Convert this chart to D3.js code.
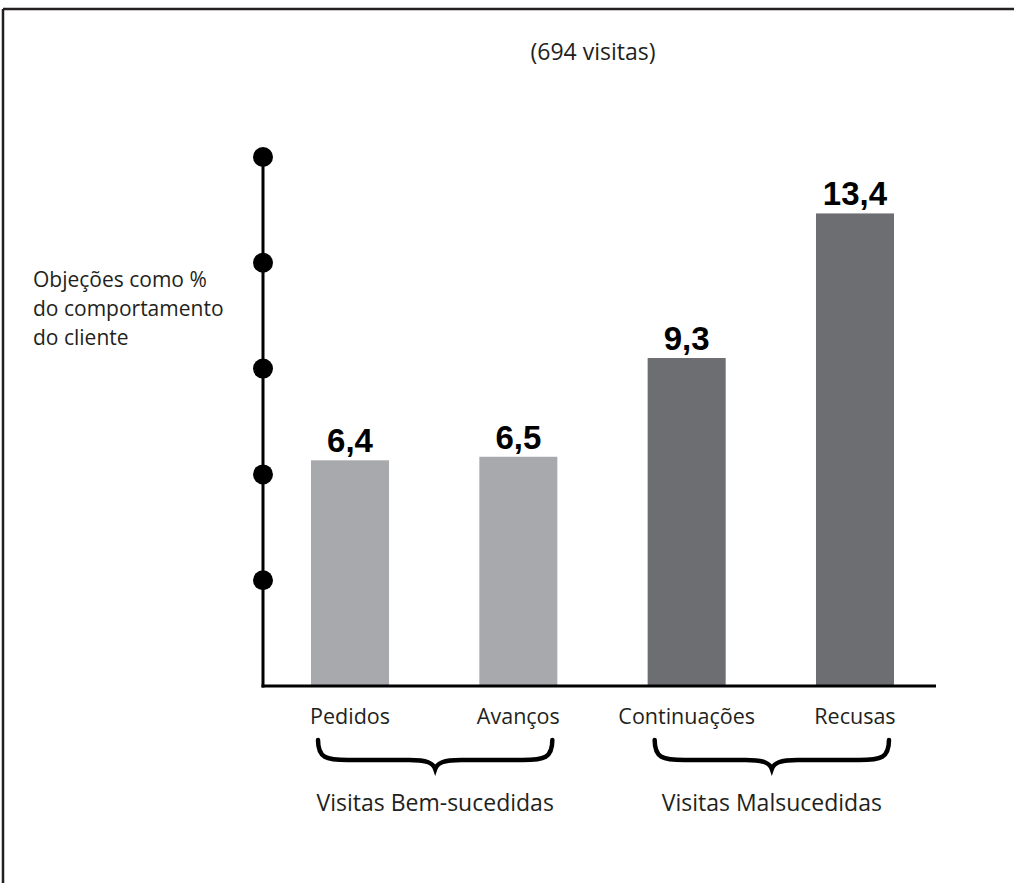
<!DOCTYPE html>
<html>
<head>
<meta charset="utf-8">
<script src="https://cdn.jsdelivr.net/npm/d3@7"></script>
<style>
  html, body { margin: 0; padding: 0; background: #fff; }
  svg { display: block; }
  .txt { font-family: "Open Sans", "Noto Sans", sans-serif; fill: #231f20; }
  .val { font-family: "Liberation Sans", Arial, sans-serif; font-weight: bold; fill: #000; }
</style>
</head>
<body>
<svg id="chart" width="1014" height="883"></svg>
<script>
// Objection share by visit outcome
const categories = ["Pedidos", "Avanços", "Continuações", "Recusas"];
const values = [6.4, 6.5, 9.3, 13.4];
const valueLabels = ["6,4", "6,5", "9,3", "13,4"];
const groupNames = ["Visitas Bem-sucedidas", "Visitas Malsucedidas"];
const groupMembers = [["Pedidos", "Avanços"], ["Continuações", "Recusas"]];
const barColors = ["#a7a9ac", "#a7a9ac", "#6d6e71", "#6d6e71"];
const tickValues = [3, 6, 9, 12, 15];
const title = "(694 visitas)";
const yLabelLines = ["Objeções como %", "do comportamento", "do cliente"];

const svg = d3.select("#chart");

// frame: top and left rules
svg.append("line").attr("x1", 3).attr("x2", 1014).attr("y1", 9).attr("y2", 9)
  .attr("stroke", "#231f20").attr("stroke-width", 2.5);
svg.append("line").attr("x1", 3).attr("x2", 3).attr("y1", 9).attr("y2", 883)
  .attr("stroke", "#231f20").attr("stroke-width", 2.5);

const axisX = 263;
const baseY = 686;

const x = d3.scaleBand()
  .domain(categories)
  .range([265.8, 939.2])
  .paddingInner(0.5365)
  .paddingOuter(0.2686);

const y = d3.scaleLinear().domain([0, 15]).range([baseY, 157]);

// title
svg.append("text").attr("class", "txt")
  .attr("x", 593).attr("y", 60)
  .attr("text-anchor", "middle")
  .attr("font-size", 23)
  .text(title);

// y-axis label
svg.append("text").attr("class", "txt")
  .attr("font-size", 21)
  .selectAll("tspan").data(yLabelLines).join("tspan")
  .attr("x", 33).attr("y", (d, i) => 287 + i * 29)
  .text(d => d);

// bars
svg.selectAll("rect.bar").data(values).join("rect")
  .attr("class", "bar")
  .attr("x", (d, i) => x(categories[i]))
  .attr("width", x.bandwidth())
  .attr("y", d => y(d))
  .attr("height", d => baseY - y(d))
  .attr("fill", (d, i) => barColors[i]);

// value labels
svg.selectAll("text.val").data(values).join("text")
  .attr("class", "val")
  .attr("x", (d, i) => x(categories[i]) + x.bandwidth() / 2)
  .attr("y", d => y(d) - 8)
  .attr("text-anchor", "middle")
  .attr("font-size", 33)
  .text((d, i) => valueLabels[i]);

// axes lines
svg.append("line").attr("x1", axisX).attr("x2", axisX)
  .attr("y1", y(15)).attr("y2", baseY + 1.5)
  .attr("stroke", "#000").attr("stroke-width", 3);
svg.append("line").attr("x1", axisX - 1.5).attr("x2", 936)
  .attr("y1", baseY).attr("y2", baseY)
  .attr("stroke", "#000").attr("stroke-width", 3);

// tick dots
svg.selectAll("circle.tick").data(tickValues).join("circle")
  .attr("class", "tick")
  .attr("cx", axisX).attr("cy", d => y(d)).attr("r", 10)
  .attr("fill", "#000");

// category labels
svg.selectAll("text.cat").data(categories).join("text")
  .attr("class", "txt cat")
  .attr("x", d => x(d) + x.bandwidth() / 2)
  .attr("y", 724)
  .attr("text-anchor", "middle")
  .attr("font-size", 21.5)
  .text(d => d);

// group braces
function bracePath(x0, x1, y0) {
  const xm = (x0 + x1) / 2, h = 20, t = 29;
  return `M${x0},${y0} C${x0},${y0 + h - 2} ${x0 + 8},${y0 + h} ${x0 + 30},${y0 + h}` +
    ` L${xm - 26},${y0 + h} C${xm - 8},${y0 + h} ${xm - 2},${y0 + h + 3} ${xm},${y0 + t}` +
    ` C${xm + 2},${y0 + h + 3} ${xm + 8},${y0 + h} ${xm + 26},${y0 + h}` +
    ` L${x1 - 30},${y0 + h} C${x1 - 8},${y0 + h} ${x1},${y0 + h - 2} ${x1},${y0}`;
}

groupMembers.forEach((members, gi) => {
  const x0 = x(members[0]) + 7;
  const x1 = x(members[members.length - 1]) + x.bandwidth() - 5;
  svg.append("path")
    .attr("d", bracePath(x0, x1, 740))
    .attr("fill", "none")
    .attr("stroke", "#000")
    .attr("stroke-width", 4.5)
    .attr("stroke-linecap", "round");
  svg.append("text").attr("class", "txt")
    .attr("x", (x0 + x1) / 2).attr("y", 811)
    .attr("text-anchor", "middle")
    .attr("font-size", 23)
    .text(groupNames[gi]);
});
</script>
</body>
</html>
